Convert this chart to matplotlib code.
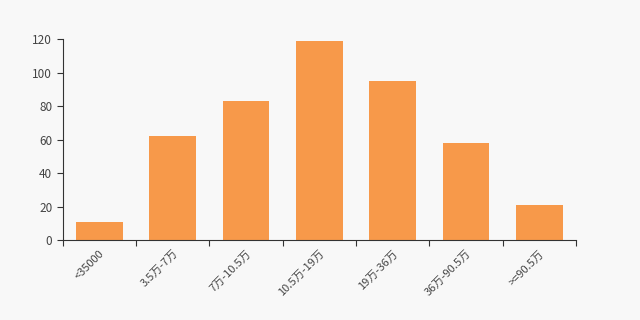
import matplotlib
matplotlib.use("Agg")
import matplotlib.pyplot as plt
import numpy as np

plt.rcParams['font.family'] = ['Noto Sans CJK SC', 'DejaVu Sans']

# 数据
categories = ["<35000", "3.5万-7万", "7万-10.5万", "10.5万-19万", "19万-36万", "36万-90.5万", ">=90.5万"]
values = [11, 62, 83, 119, 95, 58, 21]

fig = plt.figure(figsize=(6.4, 3.2), dpi=100, facecolor="#f8f8f8")
ax = fig.add_axes([0.098, 0.25, 0.802, 0.628], facecolor="#f8f8f8")

x = np.arange(len(categories))
ax.bar(x, values, width=0.64, color="#f7994a")

ax.set_xlim(-0.5, len(categories) - 0.5)
ax.set_ylim(0, 120)
ax.set_yticks(np.arange(0, 121, 20))

# x 轴刻度在类别之间
ax.set_xticks(np.arange(-0.5, len(categories), 1))
ax.set_xticklabels([])
ax.set_xticks(x, minor=True)
ax.set_xticklabels(categories, minor=True, rotation=45, ha="right",
                   rotation_mode="anchor", fontsize=8, color="#444444")
ax.tick_params(axis="x", which="minor", length=0, pad=6)
ax.tick_params(axis="x", which="major", length=4, color="#333333")
ax.tick_params(axis="y", length=4, color="#333333", labelsize=8.5, labelcolor="#444444")

for s in ["top", "right"]:
    ax.spines[s].set_visible(False)
ax.spines["left"].set_color("#333333")
ax.spines["bottom"].set_color("#333333")

fig.savefig("out.png", facecolor="#f8f8f8")
